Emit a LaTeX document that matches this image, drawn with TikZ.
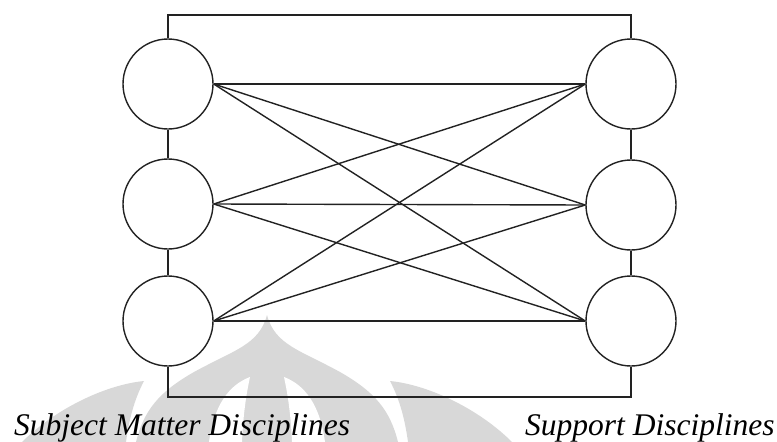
\documentclass[tikz,border=0pt]{standalone}
\usepackage{fontspec}
\setmainfont{Liberation Serif}
\newfontfamily\captionfont{Liberation Serif}[UprightFont={* Italic}]
\definecolor{ink}{HTML}{222222}
\definecolor{emblemgray}{HTML}{D8D8D8}
\begin{document}
\begin{tikzpicture}[x=1pt,y=-1pt,
  disc/.style={circle,draw=ink,line width=1.4pt,fill=white,minimum size=90pt,inner sep=0pt},
  link/.style={draw=ink,line width=1.4pt},
  caption/.style={anchor=base west,inner sep=0pt,font=\captionfont\fontsize{31.5}{36}\selectfont}]
\useasboundingbox (0,0) rectangle (777,442);

% faint emblem in the background
\fill[emblemgray] (136,442) .. controls (144,410) and (159,392) .. (194,372)
  .. controls (234,350) and (259,345) .. (267,315)
  .. controls (275,345) and (300,350) .. (340,372)
  .. controls (375,392) and (390,410) .. (398,442) -- cycle;
\fill[white] (284,377) .. controls (289,400) and (291,420) .. (292,442) -- (325,442)
  .. controls (320,405) and (305,385) .. (284,377) -- cycle;
\fill[white] (250,377) .. controls (245,400) and (243,420) .. (242,442) -- (209,442)
  .. controls (214,405) and (229,385) .. (250,377) -- cycle;
\fill[emblemgray] (390,381) .. controls (400,400) and (405,420) .. (408,442) -- (512,442)
  .. controls (480,410) and (430,385) .. (390,381) -- cycle;
\fill[emblemgray] (144,381) .. controls (134,400) and (129,420) .. (126,442) -- (22,442)
  .. controls (54,410) and (104,385) .. (144,381) -- cycle;

% frame corners
\coordinate (tl) at (168,15);
\coordinate (tr) at (631,15);
\coordinate (bl) at (168,397);
\coordinate (br) at (631,397);

% discipline circles
\node[disc] (L1) at (168,84) {};
\node[disc] (L2) at (168,204) {};
\node[disc] (L3) at (168,321) {};
\node[disc] (R1) at (631,84) {};
\node[disc] (R2) at (631,205) {};
\node[disc] (R3) at (631,321) {};

% outer loop through both columns
\draw[link] (L1.north) -- (tl) -- (tr) -- (R1.north);
\draw[link] (L3.south) -- (bl) -- (br) -- (R3.south);
\draw[link] (L1.south) -- (L2.north);
\draw[link] (L2.south) -- (L3.north);
\draw[link] (R1.south) -- (R2.north);
\draw[link] (R2.south) -- (R3.north);

% every subject circle linked to every support circle
\foreach \i in {1,2,3}{
  \foreach \j in {1,2,3}{
    \draw[link] (L\i.east) -- (R\j.west);
  }
}

\node[caption] (subj) at (14,435) {Subject Matter Disciplines};
\node[caption] (supp) at (525,435) {Support Disciplines};
\end{tikzpicture}
\end{document}
